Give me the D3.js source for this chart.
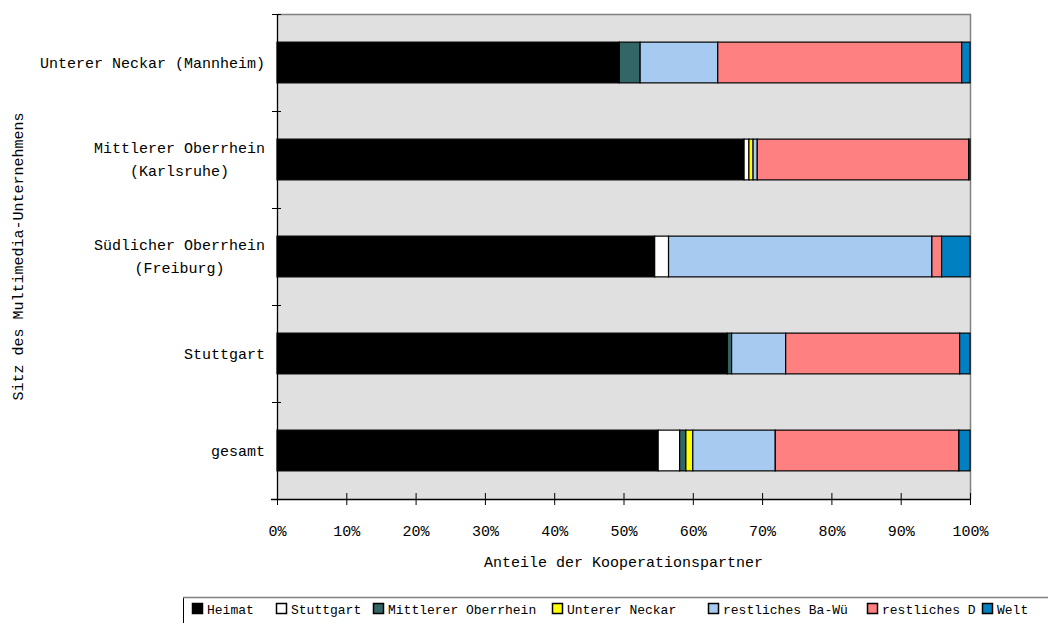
<!DOCTYPE html>
<html>
<head>
<meta charset="utf-8">
<script src="https://cdn.jsdelivr.net/npm/d3@7"></script>
<style>
  html, body { margin: 0; padding: 0; background: #ffffff; }
  svg { display: block; }
  text { font-family: "Liberation Mono", "DejaVu Sans Mono", monospace; fill: #000; }
</style>
</head>
<body>
<svg id="chart" width="1048" height="623"></svg>
<script>
// ---- data ----
const categories = [
  ["Unterer Neckar (Mannheim)"],
  ["Mittlerer Oberrhein", "(Karlsruhe)"],
  ["Südlicher Oberrhein", "(Freiburg)"],
  ["Stuttgart"],
  ["gesamt"]
];
const seriesNames = ["Heimat", "Stuttgart", "Mittlerer Oberrhein", "Unterer Neckar", "restliches Ba-Wü", "restliches D", "Welt"];
const heimat          = [49.4, 67.4, 54.5, 65.0, 55.0];
const stuttgart       = [0.0, 0.7, 2.0, 0.0, 3.1];
const mittlererOberrh = [3.0, 0.0, 0.0, 0.6, 0.9];
const untererNeckar   = [0.0, 0.6, 0.0, 0.0, 1.0];
const restBaWue       = [11.2, 0.6, 38.0, 7.8, 11.9];
const restD           = [35.2, 30.5, 1.4, 25.1, 26.5];
const welt            = [1.2, 0.2, 4.1, 1.5, 1.6];
const xTicks = [0, 10, 20, 30, 40, 50, 60, 70, 80, 90, 100];
const xTitle = "Anteile der Kooperationspartner";
const yTitle = "Sitz des Multimedia-Unternehmens";

// ---- styles / layout ----
const colors = ["#000000", "#ffffff", "#336666", "#ffff00", "#a6caf0", "#ff8080", "#0080c0"];
const legendX = [192, 276, 373, 552, 708, 867, 982];
const plot = { left: 277, right: 970, top: 14, bottom: 499 };

const allSeries = [heimat, stuttgart, mittlererOberrh, untererNeckar, restBaWue, restD, welt];
const rows = categories.map((c, i) => {
  const r = { key: i };
  seriesNames.forEach((s, j) => r[s] = allSeries[j][i]);
  return r;
});
const stacked = d3.stack().keys(seriesNames)(rows);

const svg = d3.select("#chart");
const x = d3.scaleLinear().domain([0, 100]).range([plot.left, plot.right]);
const y = d3.scaleBand().domain(d3.range(categories.length)).range([plot.top, plot.bottom]).padding(0);
const barH = y.bandwidth() * 0.42;

// plot background
svg.append("rect")
  .attr("x", plot.left).attr("y", plot.top)
  .attr("width", plot.right - plot.left).attr("height", plot.bottom - plot.top)
  .attr("fill", "#e0e0e0");
// top & right border
svg.append("path")
  .attr("d", `M${plot.left},${plot.top + 0.5}H${plot.right + 0.5}V${plot.bottom}`)
  .attr("fill", "none").attr("stroke", "#808080").attr("stroke-width", 1.5);

// bars
svg.append("g").selectAll("g").data(stacked).join("g")
  .attr("fill", (d, i) => colors[i])
  .selectAll("rect").data(d => d.filter(p => p[1] - p[0] > 0)).join("rect")
  .attr("x", d => x(d[0]))
  .attr("width", d => x(d[1]) - x(d[0]))
  .attr("y", d => y(d.data.key) + (y.bandwidth() - barH) / 2)
  .attr("height", barH)
  .attr("stroke", "#000").attr("stroke-width", 1.2);

// x axis
const xAxis = d3.axisBottom(x).tickValues(xTicks).tickFormat(d => d + "%").tickSizeInner(6).tickSizeOuter(0).tickPadding(20);
const gx = svg.append("g").attr("transform", `translate(0,${plot.bottom})`).call(xAxis);
gx.select(".domain").attr("stroke", "#000").attr("stroke-width", 1.3).attr("d", `M${plot.left - 6},0.5H${plot.right}`);
gx.selectAll(".tick line").attr("y1", -6).attr("y2", 6).attr("stroke", "#000");
gx.selectAll(".tick text").style("font-size", "15px").attr("fill", "#000").attr("font-family", null);

// y axis line and cross ticks at category boundaries
svg.append("line").attr("x1", plot.left + 0.5).attr("x2", plot.left + 0.5)
  .attr("y1", plot.top).attr("y2", plot.bottom).attr("stroke", "#000").attr("stroke-width", 1.3);
const boundaries = d3.range(categories.length + 1).map(i => i < categories.length ? y(i) : plot.bottom);
svg.append("g").selectAll("line").data(boundaries).join("line")
  .attr("x1", plot.left - 5).attr("x2", plot.left + 4)
  .attr("y1", d => d + 0.5).attr("y2", d => d + 0.5)
  .attr("stroke", "#000");

// category labels
const labelRight = 265;
const lineH = 23;
categories.forEach((lines, i) => {
  const g = svg.append("g");
  const cy = y(i) + y.bandwidth() / 2;
  const texts = lines.map((ln, k) => g.append("text")
    .attr("y", cy + (k - (lines.length - 1) / 2) * lineH + 5)
    .style("font-size", "15px")
    .attr("text-anchor", "middle")
    .text(ln));
  const maxW = d3.max(texts, t => t.node().getComputedTextLength());
  texts.forEach(t => t.attr("x", labelRight - maxW / 2));
});

// axis titles
svg.append("text").attr("x", (plot.left + plot.right) / 2).attr("y", 567)
  .attr("text-anchor", "middle").style("font-size", "15px").text(xTitle);
svg.append("text")
  .attr("transform", `translate(23,${(plot.top + plot.bottom) / 2}) rotate(-90)`)
  .attr("text-anchor", "middle").style("font-size", "15px").text(yTitle);

// legend
const lg = svg.append("g");
lg.append("rect").attr("x", 183.5).attr("y", 597.5).attr("width", 900).attr("height", 40)
  .attr("fill", "#fff").attr("stroke", "#000").attr("stroke-width", 1);
lg.append("line").attr("x1", 183).attr("x2", 1048).attr("y1", 597.5).attr("y2", 597.5)
  .attr("stroke", "#808080").attr("stroke-width", 1.5);
seriesNames.forEach((s, i) => {
  lg.append("rect").attr("x", legendX[i] + 0.5).attr("y", 603.5).attr("width", 10).attr("height", 10)
    .attr("fill", colors[i]).attr("stroke", "#000").attr("stroke-width", 1.5);
  lg.append("text").attr("x", legendX[i] + 15).attr("y", 614)
    .style("font-size", "13px").text(s);
});
</script>
</body>
</html>
